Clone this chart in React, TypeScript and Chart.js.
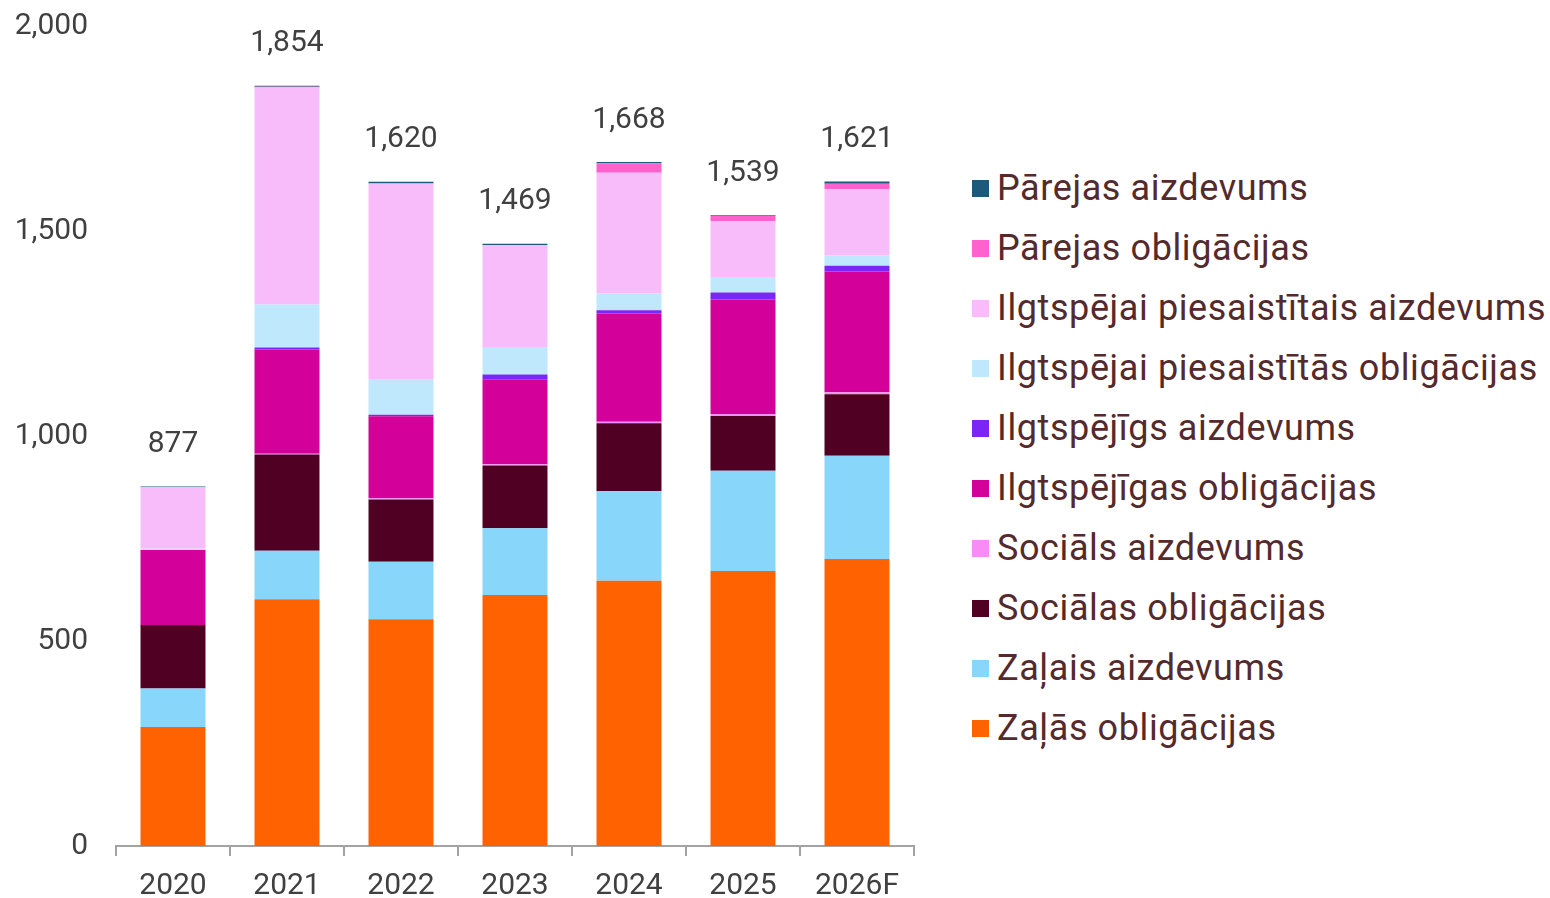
import React, { useEffect, useRef } from "react";
import { Chart, registerables } from "chart.js";

Chart.register(...registerables);

const categories = ["2020", "2021", "2022", "2023", "2024", "2025", "2026F"];

const zalasObligacijas = [290, 602, 553, 612, 647, 671, 700];
const zalaisAizdevums = [94, 118, 140, 163, 218, 244, 252];
const socialasObligacijas = [155, 235, 152, 153, 166, 134, 150];
const socialsAizdevums = [0, 2, 3, 3, 4, 4, 5];
const ilgtspejigasObligacijas = [183, 254, 200, 206, 264, 280, 294];
const ilgtspejigsAizdevums = [0, 5, 4, 13, 8, 17, 14];
const piesaistitasObligacijas = [3, 105, 85, 67, 41, 36, 26];
const piesaistitaisAizdevums = [150, 529, 479, 248, 294, 138, 161];
const parejasObligacijas = [0, 2, 0, 0, 23, 13, 13];
const parejasAizdevums = [2, 2, 4, 4, 3, 2, 6];

const yTicks = [0, 500, 1000, 1500, 2000];

// bottom to top stacking order
const series = [
  { label: "Zaļās obligācijas", data: zalasObligacijas, color: "#FF6200" },
  { label: "Zaļais aizdevums", data: zalaisAizdevums, color: "#89D6FB" },
  { label: "Sociālas obligācijas", data: socialasObligacijas, color: "#500023" },
  { label: "Sociāls aizdevums", data: socialsAizdevums, color: "#F78CF5" },
  { label: "Ilgtspējīgas obligācijas", data: ilgtspejigasObligacijas, color: "#D3009A" },
  { label: "Ilgtspējīgs aizdevums", data: ilgtspejigsAizdevums, color: "#7A26F7" },
  { label: "Ilgtspējai piesaistītās obligācijas", data: piesaistitasObligacijas, color: "#C0E8FC" },
  { label: "Ilgtspējai piesaistītais aizdevums", data: piesaistitaisAizdevums, color: "#F8BCFB" },
  { label: "Pārejas obligācijas", data: parejasObligacijas, color: "#FF62CC" },
  { label: "Pārejas aizdevums", data: parejasAizdevums, color: "#1D5A79" },
];

const AXIS_FONT = "Roboto";
const AXIS_COLOR = "#404040";

const totalsPlugin = {
  id: "totals",
  afterDatasetsDraw(chart: any) {
    const { ctx } = chart;
    const yScale = chart.scales.y;
    const xScale = chart.scales.x;
    ctx.save();
    ctx.font = `30px ${AXIS_FONT}`;
    ctx.fillStyle = AXIS_COLOR;
    ctx.textAlign = "center";
    ctx.textBaseline = "middle";
    categories.forEach((_, i) => {
      let total = 0;
      series.forEach((s) => (total += s.data[i]));
      const x = xScale.getPixelForValue(i);
      const y = yScale.getPixelForValue(total) - 42;
      ctx.fillText(total.toLocaleString("en-US"), x, y);
    });
    ctx.restore();
  },
};

export default function App() {
  const canvasRef = useRef<HTMLCanvasElement | null>(null);

  useEffect(() => {
    if (!canvasRef.current) return;
    const chart = new Chart(canvasRef.current, {
      type: "bar",
      data: {
        labels: categories,
        datasets: series.map((s) => ({
          label: s.label,
          data: s.data,
          backgroundColor: s.color,
          borderWidth: 0,
          barPercentage: 0.57,
          categoryPercentage: 1,
        })),
      },
      options: {
        responsive: false,
        animation: false,
        maintainAspectRatio: false,
        layout: { padding: { top: 26, right: 16, left: 0, bottom: 0 } },
        plugins: {
          legend: { display: false },
          tooltip: { enabled: false },
        },
        scales: {
          x: {
            stacked: true,
            grid: {
              display: true,
              drawOnChartArea: false,
              drawTicks: true,
              tickLength: 10,
              color: "#a3a3a3",
              lineWidth: 2,
              offset: true,
            },
            border: { display: true, color: "#a3a3a3", width: 2 },
            ticks: {
              color: AXIS_COLOR,
              font: { family: AXIS_FONT, size: 30 },
              padding: 12,
            },
            afterFit: (scale: any) => {
              scale.height = 52;
            },
          },
          y: {
            stacked: true,
            min: 0,
            max: 2000,
            afterBuildTicks: (scale: any) => {
              scale.ticks = yTicks.map((v) => ({ value: v }));
            },
            grid: { display: false, drawTicks: false },
            border: { display: false },
            ticks: {
              color: AXIS_COLOR,
              font: { family: AXIS_FONT, size: 30 },
              padding: 28,
              callback: (v: any) => Number(v).toLocaleString("en-US"),
            },
            afterFit: (scale: any) => {
              scale.width = 116;
              scale.paddingTop = 0;
              scale.paddingBottom = 0;
            },
          },
        },
      },
      plugins: [totalsPlugin],
    });
    return () => chart.destroy();
  }, []);

  const legendItems = [...series].reverse();

  return (
    <div
      style={{
        position: "fixed",
        left: 0,
        top: 0,
        width: 1550,
        height: 898,
        background: "#ffffff",
        overflow: "hidden",
      }}
    >
      <canvas
        ref={canvasRef}
        width={930}
        height={898}
        style={{ position: "absolute", left: 0, top: 0, width: 930, height: 898 }}
      />
      <div style={{ position: "absolute", left: 972, top: 158 }}>
        {legendItems.map((s) => (
          <div
            key={s.label}
            style={{
              display: "flex",
              alignItems: "center",
              height: 60,
              fontFamily: "Roboto",
              fontSize: 36,
              letterSpacing: "0.6px",
              color: "#552A2C",
              whiteSpace: "nowrap",
            }}
          >
            <span
              style={{
                display: "inline-block",
                width: 17,
                height: 17,
                background: s.color,
                marginRight: 8,
                flex: "none",
              }}
            />
            <span>{s.label}</span>
          </div>
        ))}
      </div>
    </div>
  );
}
